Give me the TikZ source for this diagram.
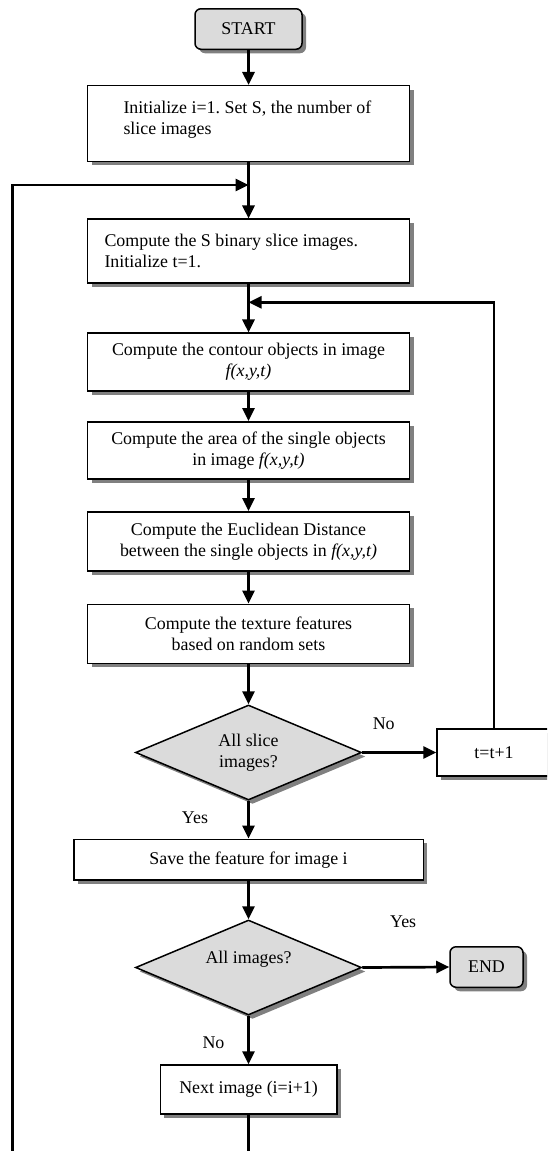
\documentclass[tikz,border=0pt]{standalone}
\usepackage{fontspec}
\setmainfont{Liberation Serif}
\usetikzlibrary{shapes.geometric, arrows.meta, shadows}

\begin{document}
\begin{tikzpicture}[
  x=1pt, y=1pt,
  font=\fontsize{17.9}{21}\selectfont\frenchspacing,
  %  Définition des styles pour les cadres 
  ombre_style/.style={drop shadow={shadow xshift=4pt, shadow yshift=-4pt, fill=black!50, opacity=1}},
  cadre_style/.style={rectangle, draw=black, fill=white, line width=1.5pt, inner sep=0pt, align=center, minimum width=322pt, ombre_style},
  gauche_style/.style={cadre_style, align=left, inner xsep=17pt, text width=288pt,
    execute at begin node={\spaceskip=0pt\xspaceskip=0pt}},
  terminal_style/.style={rectangle, rounded corners=6pt, draw=black, fill=black!14, line width=1.5pt, minimum height=40.5pt, ombre_style},
  test_style/.style={diamond, draw=black, fill=black!14, line width=1.5pt, aspect=2.4, inner sep=0pt, minimum width=226pt, minimum height=95pt, align=center, ombre_style},
  lien_style/.style={draw, line width=2.7pt, -{Triangle[length=13pt, width=12pt]}},
  etiquette_style/.style={inner sep=0pt}
]
\useasboundingbox (0,0) rectangle (547,-1151);
\clip (0,0) rectangle (547,-1151);

%  Colonne principale 
\node[terminal_style, minimum width=107pt] (debut) at (248.5,-29) {START};
\node[gauche_style, text width=250pt, minimum height=75.6pt] (init) at (248.5,-123.5)
    {Initialize i=1. Set S, the number of\\slice images\\[-9pt]\mbox{}};
\node[gauche_style, minimum height=64pt] (binaire) at (248.5,-251.2)
    {Compute the S binary slice images.\\Initialize t=1.};
\node[cadre_style, minimum height=58pt] (contour) at (248.5,-362.2)
    {Compute the contour objects in image\\\textit{f(x,y,t)}};
\node[cadre_style, minimum height=57pt] (aire) at (248.5,-450.4)
    {Compute the area of the single objects\\in image \textit{f(x,y,t)}};
\node[cadre_style, minimum height=59pt] (distance) at (248.5,-541.4)
    {Compute the Euclidean Distance\\between the single objects in \textit{f(x,y,t)}};
\node[cadre_style, minimum height=59pt] (texture) at (248.5,-633.8)
    {Compute the texture features\\based on random sets};
\node[test_style] (test_coupes) at (248.5,-752.5) {All slice\\images?};
\node[cadre_style, minimum width=114pt, minimum height=47.4pt] (incr_t) at (494,-752.5) {t=t+1};
\node[cadre_style, minimum width=349.5pt, minimum height=40.7pt] (sauver) at (248.5,-859.7)
    {Save the feature for image i};
\node[test_style] (test_images) at (248.5,-967.5) {All images?\\\mbox{}};
\node[terminal_style, minimum width=73pt] (fin) at (486.5,-967) {END};
\node[cadre_style, minimum width=176.5pt, minimum height=49pt] (suivant) at (248.5,-1089.5)
    {Next image (i=i+1)};

%  Points des boucles 
\coordinate (retour_i) at (248.5,-185);
\coordinate (retour_t) at (248.5,-302.3);
\coordinate (bas_gauche) at (12.2,-1151);
\coordinate (bas_milieu) at (248.5,-1151);

%  Liaisons 
\draw[lien_style] (debut) -- (init);
\draw[lien_style] (init) -- (binaire);
\draw[lien_style] (binaire) -- (contour);
\draw[lien_style] (contour) -- (aire);
\draw[lien_style] (aire) -- (distance);
\draw[lien_style] (distance) -- (texture);
\draw[lien_style] (texture) -- (test_coupes);
\draw[lien_style] (test_coupes.east) -- node[etiquette_style, pos=0.29, yshift=29pt] {No} (incr_t.west);
\draw[lien_style] (incr_t.north) |- (retour_t);
\draw[lien_style] (test_coupes.south) -- node[etiquette_style, pos=0.44, xshift=-53.5pt] {Yes} (sauver.north);
\draw[lien_style] (sauver) -- (test_images);
\draw[lien_style] (test_images.east) -- node[etiquette_style, pos=0.47, yshift=45.8pt] {Yes} (fin.west);
\draw[lien_style] (test_images.south) -- node[etiquette_style, pos=0.55, xshift=-35pt] {No} (suivant.north);
\draw[lien_style, -] (suivant.south) -- (bas_milieu);
\draw[lien_style] (bas_gauche) |- (retour_i);
\end{tikzpicture}
\end{document}
